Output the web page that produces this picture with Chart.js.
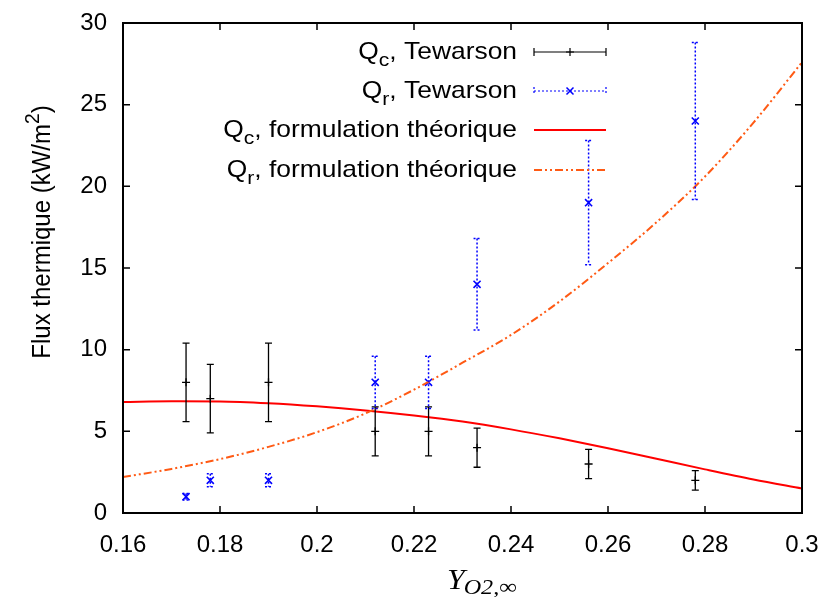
<!DOCTYPE html>
<html>
<head>
<meta charset="utf-8">
<script src="https://cdn.jsdelivr.net/npm/chart.js@4.4.0/dist/chart.umd.min.js"></script>
<style>
html, body { margin: 0; padding: 0; background: #fff; }
#wrap { width: 825px; height: 597px; }
</style>
</head>
<body>
<div id="wrap"><canvas id="fluxChart" width="825" height="597"></canvas></div>
<script>
// Tewarson measurements (error = half height of the bar)
const xTewarson = [0.173, 0.178, 0.19, 0.212, 0.223, 0.233, 0.256, 0.278];
const qcTewarson = [8, 7, 8, 5, 5, 4, 3, 2];
const qcErr = [2.4, 2.1, 2.4, 1.5, 1.5, 1.2, 0.9, 0.6];
const qrTewarson = [1, 2, 2, 8, 8, 14, 19, 24];
const qrErr = [0.2, 0.4, 0.4, 1.6, 1.6, 2.8, 3.8, 4.8];

// Theoretical curves
const xTheory = [0.16, 0.17, 0.18, 0.19, 0.20, 0.21, 0.22, 0.23, 0.24, 0.25, 0.26, 0.27, 0.28, 0.29, 0.30];
const qcTheory = [6.8, 6.84, 6.83, 6.72, 6.53, 6.28, 5.97, 5.6, 5.12, 4.57, 3.97, 3.32, 2.67, 2.05, 1.5];
const qrTheory = [2.2, 2.7, 3.3, 4.05, 4.95, 6.1, 7.55, 9.2, 10.9, 12.95, 15.3, 17.8, 20.6, 23.9, 27.6];

// Axes
const xTicks = [0.16, 0.18, 0.2, 0.22, 0.24, 0.26, 0.28, 0.3];
const yTicks = [0, 5, 10, 15, 20, 25, 30];

const BLACK = '#000000';
const BLUE = '#0000ff';
const RED = '#ff0000';
const ORANGE = '#ff5a14';
const ORANGE_DASH = [8, 3, 2, 3, 2, 3];
const FONT = '"Liberation Sans", Arial, sans-serif';
const HSCALE = 1.1; // text in the picture is a bit wide

const toPoints = (xs, ys) => xs.map((x, i) => ({ x: x, y: ys[i] }));

// Text with sub/superscripts: parts = [[text, ''|'sub'|'sup'], ...]
function drawRich(ctx, parts, x, y, align, size) {
    const fontFor = m => (m ? size * 0.8 : size) + 'px ' + FONT;
    let w = 0;
    parts.forEach(([t, m]) => { ctx.font = fontFor(m); w += ctx.measureText(t).width; });
    let cx = align === 'right' ? x - w : align === 'center' ? x - w / 2 : x;
    parts.forEach(([t, m]) => {
        ctx.font = fontFor(m);
        const dy = m === 'sub' ? size * 0.3 : m === 'sup' ? -size * 0.42 : 0;
        ctx.fillText(t, cx, y + dy);
        cx += ctx.measureText(t).width;
    });
}

function drawErrorSample(ctx, x0, x1, y, color, dash, style) {
    ctx.strokeStyle = color;
    ctx.lineWidth = 1.2;
    ctx.setLineDash(dash);
    ctx.beginPath();
    ctx.moveTo(x0, y); ctx.lineTo(x1, y);
    ctx.moveTo(x0, y - 4); ctx.lineTo(x0, y + 4);
    ctx.moveTo(x1, y - 4); ctx.lineTo(x1, y + 4);
    ctx.stroke();
    ctx.setLineDash([]);
    const xm = (x0 + x1) / 2;
    ctx.beginPath();
    if (style === 'cross') {
        ctx.moveTo(xm - 4, y); ctx.lineTo(xm + 4, y);
        ctx.moveTo(xm, y - 4); ctx.lineTo(xm, y + 4);
    } else {
        ctx.lineWidth = 1.5;
        ctx.moveTo(xm - 3.5, y - 3.5); ctx.lineTo(xm + 3.5, y + 3.5);
        ctx.moveTo(xm - 3.5, y + 3.5); ctx.lineTo(xm + 3.5, y - 3.5);
    }
    ctx.stroke();
}

// Vertical error bars for datasets that carry an `errors` array
const errorBars = {
    id: 'errorBars',
    afterDatasetsDraw(chart) {
        const { ctx, chartArea, scales: { x, y } } = chart;
        ctx.save();
        ctx.beginPath();
        ctx.rect(chartArea.left, chartArea.top, chartArea.width, chartArea.height);
        ctx.clip();
        chart.data.datasets.forEach(ds => {
            if (!ds.errors) return;
            ctx.strokeStyle = ds.borderColor;
            ctx.lineWidth = ds.errWidth;
            ctx.setLineDash(ds.errDash);
            ds.data.forEach((p, j) => {
                const px = x.getPixelForValue(p.x);
                const top = y.getPixelForValue(p.y + ds.errors[j]);
                const bot = y.getPixelForValue(p.y - ds.errors[j]);
                ctx.beginPath();
                ctx.moveTo(px, top); ctx.lineTo(px, bot);
                ctx.moveTo(px - 3.5, top); ctx.lineTo(px + 3.5, top);
                ctx.moveTo(px - 3.5, bot); ctx.lineTo(px + 3.5, bot);
                ctx.stroke();
            });
        });
        ctx.restore();
    }
};

// gnuplot style frame, inward ticks, legend and axis titles
const decorations = {
    id: 'decorations',
    afterDraw(chart) {
        const { ctx, chartArea: a, scales: { x, y } } = chart;
        ctx.save();
        ctx.strokeStyle = BLACK;
        ctx.lineWidth = 1.5;
        ctx.beginPath();
        xTicks.forEach(v => {
            const px = x.getPixelForValue(v);
            ctx.moveTo(px, a.bottom); ctx.lineTo(px, a.bottom - 7);
            ctx.moveTo(px, a.top); ctx.lineTo(px, a.top + 7);
        });
        yTicks.forEach(v => {
            const py = y.getPixelForValue(v);
            ctx.moveTo(a.left, py); ctx.lineTo(a.left + 7, py);
            ctx.moveTo(a.right, py); ctx.lineTo(a.right - 7, py);
        });
        ctx.stroke();
        ctx.lineWidth = 2;
        ctx.strokeRect(a.left, a.top, a.right - a.left, a.bottom - a.top);

        // legend
        const rows = [
            { label: [['Q', ''], ['c', 'sub'], [', Tewarson', '']], y: 52 },
            { label: [['Q', ''], ['r', 'sub'], [', Tewarson', '']], y: 91 },
            { label: [['Q', ''], ['c', 'sub'], [', formulation théorique', '']], y: 130 },
            { label: [['Q', ''], ['r', 'sub'], [', formulation théorique', '']], y: 170 }
        ];
        ctx.fillStyle = BLACK;
        ctx.textBaseline = 'alphabetic';
        rows.forEach(r => {
            ctx.save();
            ctx.translate(517, r.y + 7);
            ctx.scale(HSCALE, 1);
            drawRich(ctx, r.label, 0, 0, 'right', 24);
            ctx.restore();
        });
        drawErrorSample(ctx, 534, 606, rows[0].y, BLACK, [], 'cross');
        drawErrorSample(ctx, 534, 606, rows[1].y, BLUE, [2, 2], 'x');
        ctx.lineWidth = 2;
        ctx.strokeStyle = RED;
        ctx.beginPath(); ctx.moveTo(534, rows[2].y); ctx.lineTo(606, rows[2].y); ctx.stroke();
        ctx.strokeStyle = ORANGE;
        ctx.setLineDash(ORANGE_DASH);
        ctx.beginPath(); ctx.moveTo(534, rows[3].y); ctx.lineTo(606, rows[3].y); ctx.stroke();
        ctx.setLineDash([]);

        // y title
        ctx.save();
        ctx.translate(50, 232);
        ctx.scale(HSCALE, 1);
        ctx.rotate(-Math.PI / 2);
        drawRich(ctx, [['Flux thermique (kW/m', ''], ['2', 'sup'], [')', '']], 0, 0, 'center', 24);
        ctx.restore();

        // x title: Y_{O2,inf}
        ctx.save();
        ctx.translate(447, 589);
        ctx.scale(HSCALE, 1);
        ctx.font = 'italic 29px "Liberation Serif", serif';
        ctx.fillText('Y', 0, 0);
        const wY = ctx.measureText('Y').width;
        ctx.font = 'italic 22px "Liberation Serif", serif';
        ctx.fillText('O2,∞', wY - 1, 5);
        ctx.restore();

        ctx.restore();
    }
};

const chart = new Chart(document.getElementById('fluxChart'), {
    type: 'scatter',
    data: {
        datasets: [
            {
                label: 'Qc, Tewarson',
                data: toPoints(xTewarson, qcTewarson),
                errors: qcErr,
                errDash: [],
                errWidth: 1.3,
                borderColor: BLACK,
                backgroundColor: BLACK,
                pointStyle: 'cross',
                pointRadius: 4,
                pointBorderWidth: 1.3,
                order: 4
            },
            {
                label: 'Qr, Tewarson',
                data: toPoints(xTewarson, qrTewarson),
                errors: qrErr,
                errDash: [2, 2],
                errWidth: 1.5,
                borderColor: BLUE,
                backgroundColor: BLUE,
                pointStyle: 'crossRot',
                pointRadius: 5,
                pointBorderWidth: 1.6,
                order: 3
            },
            {
                label: 'Qc, formulation théorique',
                data: toPoints(xTheory, qcTheory),
                showLine: true,
                borderColor: RED,
                borderWidth: 2,
                pointRadius: 0,
                cubicInterpolationMode: 'monotone',
                order: 2
            },
            {
                label: 'Qr, formulation théorique',
                data: toPoints(xTheory, qrTheory),
                showLine: true,
                borderColor: ORANGE,
                borderWidth: 2,
                borderDash: ORANGE_DASH,
                pointRadius: 0,
                cubicInterpolationMode: 'monotone',
                order: 1
            }
        ]
    },
    options: {
        responsive: false,
        animation: false,
        devicePixelRatio: 1,
        layout: { padding: { left: 0, top: 23, right: 23, bottom: 0 } },
        plugins: {
            legend: { display: false },
            tooltip: { enabled: false }
        },
        scales: {
            x: {
                type: 'linear',
                min: 0.16,
                max: 0.3,
                grid: { display: false, drawTicks: false },
                border: { display: false },
                afterBuildTicks: s => { s.ticks = xTicks.map(v => ({ value: v })); },
                afterFit: s => { s.height = 84; s.paddingLeft = 0; s.paddingRight = 0; },
                ticks: {
                    autoSkip: false,
                    maxRotation: 0,
                    padding: 18,
                    color: BLACK,
                    font: { family: FONT, size: 24 },
                    callback: v => String(parseFloat(Number(v).toFixed(2)))
                }
            },
            y: {
                min: 0,
                max: 30,
                grid: { display: false, drawTicks: false },
                border: { display: false },
                afterBuildTicks: s => { s.ticks = yTicks.map(v => ({ value: v })); },
                afterFit: s => { s.width = 123; s.paddingTop = 0; s.paddingBottom = 0; },
                ticks: {
                    padding: 16,
                    color: BLACK,
                    font: { family: FONT, size: 24 }
                }
            }
        }
    },
    plugins: [errorBars, decorations]
});
</script>
</body>
</html>
